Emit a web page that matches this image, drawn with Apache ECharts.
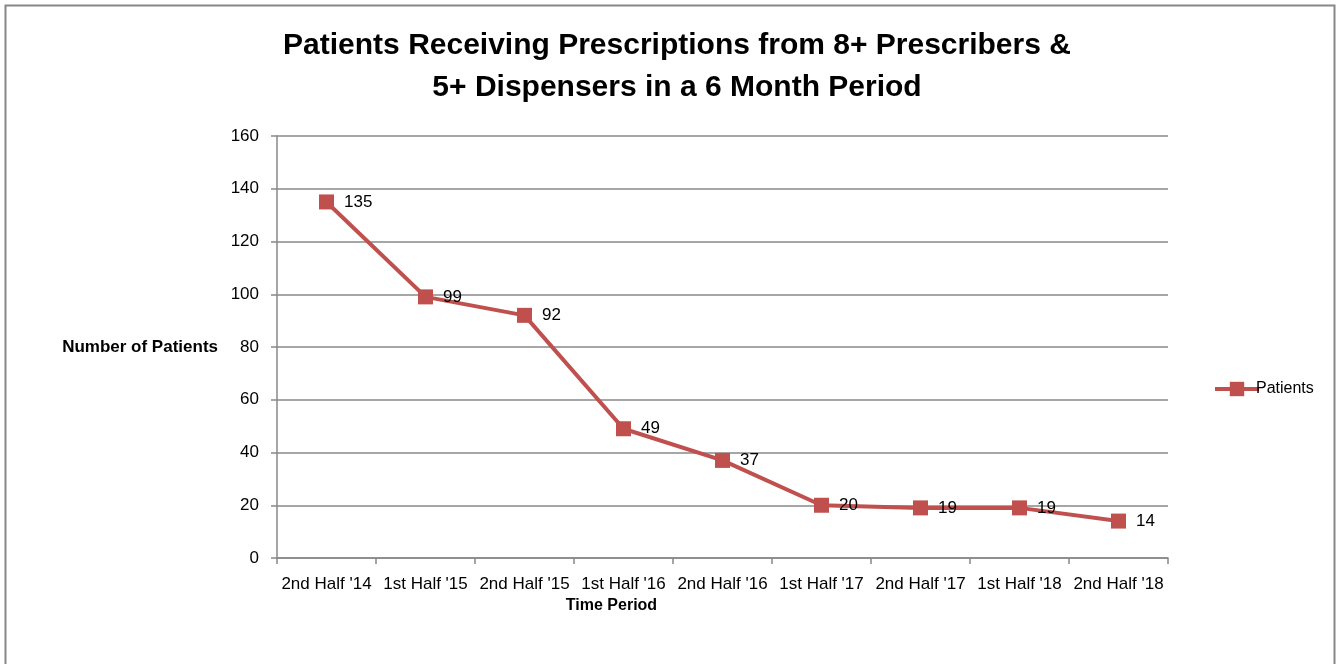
<!DOCTYPE html>
<html>
<head>
<meta charset="utf-8">
<script src="https://cdn.jsdelivr.net/npm/echarts@6/dist/echarts.min.js"></script>
<style>
  html, body { margin: 0; padding: 0; background: #fff; }
  #chart { width: 1340px; height: 664px; }
</style>
</head>
<body>
<div id="chart"></div>
<script>
// time periods on the x axis
const periods = ["2nd Half '14", "1st Half '15", "2nd Half '15", "1st Half '16", "2nd Half '16",
                 "1st Half '17", "2nd Half '17", "1st Half '18", "2nd Half '18"];
// number of patients per period
const patients = [135, 99, 92, 49, 37, 20, 19, 19, 14];
const yTicks = [0, 20, 40, 60, 80, 100, 120, 140, 160];

const font = 'Liberation Sans';
let myChart = echarts.init(document.getElementById('chart'));

let option = {
    backgroundColor: '#fff',
    animation: false,
    title: {
        text: 'Patients Receiving Prescriptions from 8+ Prescribers &\n5+ Dispensers in a 6 Month Period',
        left: 672,
        top: 20,
        textAlign: 'center',
        textStyle: { fontFamily: font, fontSize: 30, fontWeight: 'bold', color: '#000', lineHeight: 42 }
    },
    legend: {
        data: ['Patients'],
        orient: 'vertical',
        left: 1208,
        top: 376,
        itemWidth: 44,
        itemHeight: 18,
        itemGap: 4,
        itemStyle: { color: '#C0504D' },
        lineStyle: { width: 4 },
        textStyle: { fontFamily: font, fontSize: 16, color: '#000', padding: [0, 0, 0, -8] }
    },
    grid: { left: 277, right: 172, top: 136, bottom: 106 },
    xAxis: {
        type: 'category',
        data: periods,
        boundaryGap: true,
        name: 'Time Period',
        nameLocation: 'middle',
        nameGap: 40,
        nameTextStyle: { fontFamily: font, fontSize: 16, fontWeight: 'bold', color: '#000', padding: [0, 222, 0, 0] },
        axisLine: { lineStyle: { color: '#888', width: 1.5 } },
        axisTick: { show: true, length: 6, lineStyle: { color: '#888', width: 1.5 }, alignWithLabel: false },
        axisLabel: { fontFamily: font, fontSize: 17, color: '#000', margin: 18, interval: 0 }
    },
    yAxis: {
        type: 'value',
        min: 0,
        max: 160,
        interval: 20,
        name: 'Number of Patients',
        nameLocation: 'middle',
        nameRotate: 0,
        nameGap: 59,
        nameTextStyle: { fontFamily: font, fontSize: 17, fontWeight: 'bold', color: '#000', align: 'right' },
        axisLine: { show: true, lineStyle: { color: '#888', width: 1.5 } },
        axisTick: { show: true, length: 6, lineStyle: { color: '#888', width: 1.5 } },
        axisLabel: {
            fontFamily: font, fontSize: 17, color: '#000', margin: 18,
            formatter: v => yTicks.includes(v) ? String(v) : ''
        },
        splitLine: { lineStyle: { color: '#888', width: 1.5 } }
    },
    series: [{
        name: 'Patients',
        type: 'line',
        data: patients,
        symbol: 'rect',
        symbolSize: 15,
        color: '#C0504D',
        lineStyle: { color: '#C0504D', width: 4 },
        itemStyle: { color: '#C0504D' },
        label: {
            show: true,
            position: 'right',
            distance: 10,
            fontFamily: font,
            fontSize: 17,
            color: '#000'
        }
    }],
    graphic: [{
        type: 'rect',
        shape: { x: 5.5, y: 5.5, width: 1329, height: 670 },
        style: { fill: 'none', stroke: '#888', lineWidth: 2 },
        silent: true
    }]
};

option && myChart.setOption(option);
</script>
</body>
</html>
